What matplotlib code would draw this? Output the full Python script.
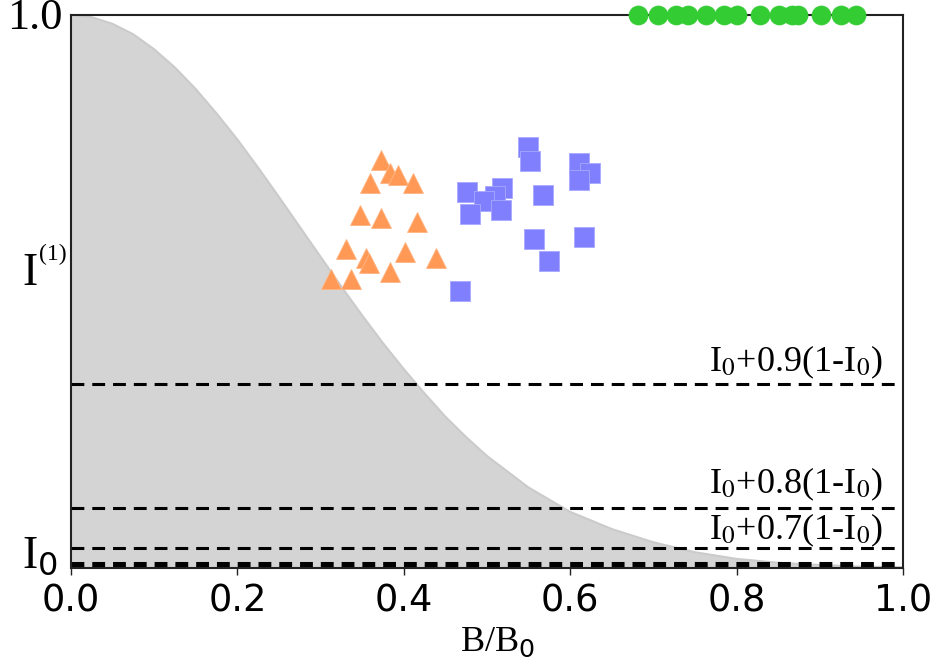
import matplotlib
matplotlib.use("Agg")
import matplotlib.pyplot as plt

# Shaded response envelope (B/B0, normalised intensity)
curve_x = [0.0, 0.025, 0.05, 0.075, 0.1, 0.125, 0.15, 0.175, 0.2, 0.225,
           0.25, 0.275, 0.3, 0.325, 0.35, 0.375, 0.4, 0.425, 0.45, 0.475,
           0.5, 0.55, 0.6, 0.65, 0.7, 0.75, 0.8, 0.85, 0.9, 0.95, 1.0]
curve_y = [1.0, 0.996, 0.984, 0.965, 0.938, 0.905, 0.866, 0.822, 0.775, 0.724,
           0.671, 0.617, 0.563, 0.509, 0.457, 0.407, 0.360, 0.316, 0.274, 0.237,
           0.203, 0.146, 0.102, 0.071, 0.047, 0.029, 0.017, 0.010, 0.006, 0.003, 0.002]

# Triangles
tri_x = [0.373, 0.383, 0.393, 0.359, 0.411, 0.347, 0.372, 0.416,
         0.331, 0.401, 0.355, 0.358, 0.439, 0.383, 0.312, 0.336]
tri_y = [0.738, 0.714, 0.711, 0.696, 0.696, 0.639, 0.633, 0.625,
         0.577, 0.572, 0.560, 0.551, 0.560, 0.536, 0.523, 0.523]

# Squares
sq_x = [0.549, 0.552, 0.611, 0.624, 0.611, 0.476, 0.518, 0.510,
        0.496, 0.479, 0.517, 0.567, 0.556, 0.617, 0.575, 0.468]
sq_y = [0.762, 0.737, 0.733, 0.715, 0.701, 0.680, 0.687, 0.673,
        0.663, 0.640, 0.648, 0.674, 0.596, 0.599, 0.555, 0.501]

# Circles sitting at full intensity
circ_x = [0.681, 0.705, 0.727, 0.741, 0.763, 0.785, 0.801, 0.828,
          0.851, 0.866, 0.874, 0.901, 0.925, 0.944]
circ_y = [1.0] * len(circ_x)

# Threshold levels I0 + k(1 - I0)
level_y = [0.3326, 0.1095, 0.0361, 0.0101, 0.0042]
level_text = [r"I$_0$+0.9(1-I$_0$)", r"I$_0$+0.8(1-I$_0$)", r"I$_0$+0.7(1-I$_0$)"]
level_text_y = [0.356, 0.135, 0.052]

# Axis ticks / level markers on the intensity axis
xticks = [0.0, 0.2, 0.4, 0.6, 0.8, 1.0]
y_one = 1.0
y_first = 0.512
y_base = 0.002

fig = plt.figure(figsize=(9.39, 6.62), dpi=100)
ax = fig.add_axes([71 / 939, 1 - 568.3 / 662, 832 / 939, 553.3 / 662])

ax.fill_between(curve_x, curve_y, 0, color="#d4d4d4", lw=0, zorder=1)
ax.plot(curve_x, curve_y, color="#cbcbcb", lw=1.5, zorder=1)

for y in level_y:
    ax.hlines(y, 0.0, 0.993, colors="black", linestyles=(0, (4.2, 2.6)), lw=2.2, zorder=2)

for t, y in zip(level_text, level_text_y):
    ax.text(0.975, y, t, ha="right", va="baseline", fontsize=26,
            family="Liberation Serif", math_fontfamily="stix", zorder=3)

ax.plot(tri_x, tri_y, "^", ms=14.4, color="#ff9955", mec="#ffb585", mew=0.6, ls="none", zorder=4)
ax.plot(sq_x, sq_y, "s", ms=13.7, color="#8080ff", mec="#a8a8ff", mew=0.6, ls="none", zorder=4)
ax.plot(circ_x, circ_y, "o", ms=13.7, color="#33cc33", mec="#33cc33", mew=0.5, ls="none",
        zorder=5, clip_on=False)

ax.set_xlim(0, 1)
ax.set_ylim(0, 1)
ax.set_xticks(xticks)
ax.set_xticklabels([f"{v:.1f}" for v in xticks], fontsize=26.5, family="DejaVu Sans")
ax.set_yticks([])
ax.tick_params(axis="x", direction="out", length=5, width=1, pad=5, color="#222222")

# Labels on the intensity axis
ytr = ax.get_yaxis_transform()
ax.text(-0.0096, y_one - 0.006, "1.0", transform=ytr, ha="right", va="center",
        fontsize=32, family="Liberation Serif", clip_on=False)
ax.text(-0.0397, y_first, "I", transform=ytr, ha="right", va="baseline",
        fontsize=33, family="Liberation Serif", clip_on=False)
ax.text(-0.0385, y_first + 0.045, "(1)", transform=ytr, ha="left", va="baseline",
        fontsize=17, family="Liberation Serif", clip_on=False)
ax.text(-0.0156, y_base, r"I$_0$", transform=ytr, ha="right", va="baseline",
        fontsize=33, family="Liberation Serif", math_fontfamily="dejavusans", clip_on=False)

ax.set_xlabel(r"B/B$_0$", fontsize=26, family="Liberation Serif")
ax.xaxis.set_label_coords(0.513, -0.104)

for s in ax.spines.values():
    s.set_color("#222222")
    s.set_linewidth(1.5)

fig.savefig("out.png", dpi=100)
